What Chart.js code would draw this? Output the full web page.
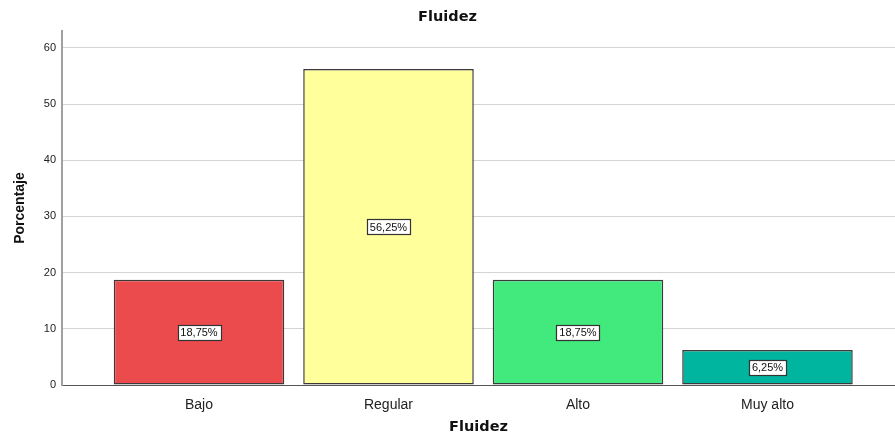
<!DOCTYPE html>
<html>
<head>
<meta charset="utf-8">
<script src="https://cdn.jsdelivr.net/npm/chart.js@4/dist/chart.umd.min.js"></script>
<style>
  html, body { margin: 0; padding: 0; background: #fff; }
  #wrap { width: 895px; height: 434px; }
</style>
</head>
<body>
<div id="wrap"><canvas id="chart1"></canvas></div>
<script>
// Chart data
var categories = ['Bajo', 'Regular', 'Alto', 'Muy alto'];
var percentages = [18.75, 56.25, 18.75, 6.25];
var barLabels = ['18,75%', '56,25%', '18,75%', '6,25%'];
var barColors = ['#EB4B4D', '#FFFF9C', '#42E97C', '#00B5A0'];
var yTicks = [0, 10, 20, 30, 40, 50, 60];

// Draw the value boxes in the middle of each bar
var boxLabels = {
    id: 'boxLabels',
    afterDatasetsDraw: function(chart) {
        var ctx = chart.ctx;
        var meta = chart.getDatasetMeta(0);
        ctx.save();
        ctx.font = '11px "Liberation Sans", Arial, sans-serif';
        ctx.textAlign = 'center';
        ctx.textBaseline = 'middle';
        meta.data.forEach(function(bar, i) {
            var cy = (bar.y + bar.base) / 2;
            var w = Math.round(ctx.measureText(barLabels[i]).width + 6);
            var h = 15;
            var bx = Math.round(bar.x - w / 2) + 0.5;
            var by = Math.round(cy - h / 2) + 0.5;
            ctx.fillStyle = '#fff';
            ctx.fillRect(bx, by, w, h);
            ctx.strokeStyle = '#333';
            ctx.lineWidth = 1.2;
            ctx.strokeRect(bx, by, w, h);
            ctx.fillStyle = '#111';
            ctx.fillText(barLabels[i], bar.x, cy + 1);
        });
        ctx.restore();
    }
};

document.addEventListener('DOMContentLoaded', function() {
    var ctx1 = document.getElementById('chart1').getContext('2d');
    var points = categories.map(function(c, i) { return { x: i, y: percentages[i] }; });
    var fluidezChart = new Chart(ctx1, {
        type: 'bar',
        data: {
            datasets: [{
                label: 'Porcentaje',
                data: points,
                backgroundColor: barColors,
                borderColor: '#3a3a3a',
                borderWidth: 1.5,
                borderSkipped: false,
                categoryPercentage: 1,
                barPercentage: 0.9
            }]
        },
        plugins: [boxLabels],
        options: {
            responsive: true,
            maintainAspectRatio: false,
            animation: false,
            layout: { padding: { left: 0, right: 0, top: 0, bottom: 0 } },
            plugins: {
                legend: { display: false },
                tooltip: { enabled: false },
                title: {
                    display: true,
                    text: 'Fluidez',
                    color: '#111',
                    font: { family: '"DejaVu Sans", Verdana, sans-serif', size: 14.5, weight: 'bold', lineHeight: 1.2 },
                    padding: { top: 9, bottom: 4.6 }
                }
            },
            scales: {
                x: {
                    type: 'linear',
                    offset: false,
                    min: -0.723,
                    max: 3.673,
                    afterFit: function(scale) { scale.height = 49; },
                    afterBuildTicks: function(scale) {
                        scale.ticks = categories.map(function(c, i) { return { value: i }; });
                    },
                    ticks: {
                        autoSkip: false,
                        maxRotation: 0,
                        padding: 4,
                        color: '#222',
                        font: { family: '"Liberation Sans", Arial, sans-serif', size: 14 },
                        callback: function(value) { return categories[value]; }
                    },
                    grid: { display: false },
                    border: { display: true, color: '#555', width: 1 },
                    title: {
                        display: true,
                        text: 'Fluidez',
                        color: '#111',
                        font: { family: '"DejaVu Sans", Verdana, sans-serif', size: 14.5, weight: 'bold', lineHeight: 1 },
                        padding: { top: 0, bottom: 0 }
                    }
                },
                y: {
                    min: 0,
                    max: 63,
                    afterFit: function(scale) { scale.width = 62; },
                    afterBuildTicks: function(scale) {
                        scale.ticks = yTicks.map(function(v) { return { value: v }; });
                    },
                    ticks: {
                        padding: 6,
                        color: '#222',
                        font: { family: '"Liberation Sans", Arial, sans-serif', size: 11 }
                    },
                    grid: { color: '#d4d4d4', lineWidth: 1, drawTicks: false },
                    border: { display: true, color: '#a0a0a0', width: 2 },
                    title: {
                        display: true,
                        text: 'Porcentaje',
                        color: '#111',
                        font: { family: '"Liberation Sans", Arial, sans-serif', size: 14, weight: 'bold', lineHeight: 1.2 },
                        padding: { top: 12, bottom: 0 }
                    }
                }
            }
        }
    });
});
</script>
</body>
</html>
